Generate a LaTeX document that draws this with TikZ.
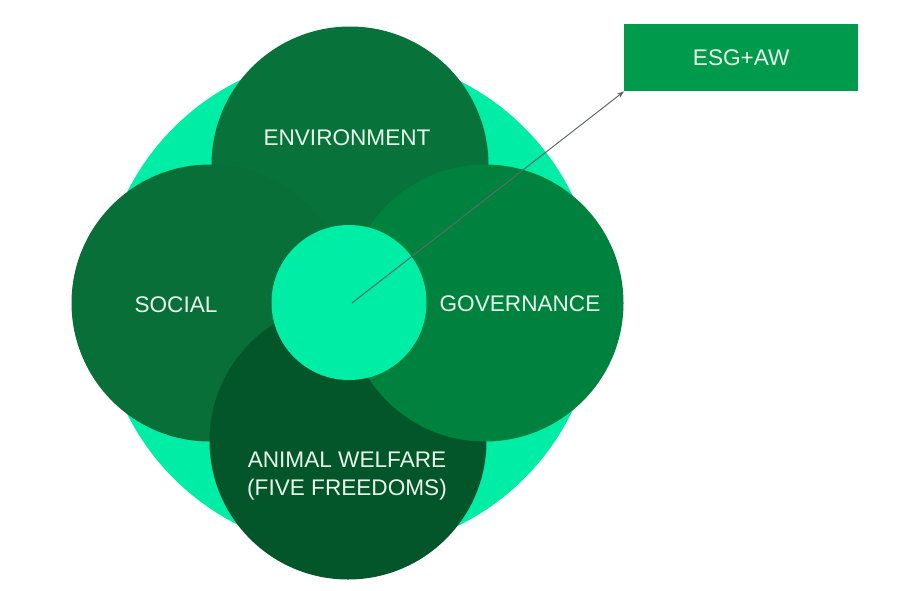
\documentclass[tikz,border=0pt]{standalone}
\usepackage{fontspec}
\setmainfont{Liberation Sans}
\usetikzlibrary{arrows.meta}
\definecolor{lightg}{HTML}{00EDA6}
\definecolor{envc}{HTML}{077239}
\definecolor{socc}{HTML}{096F38}
\definecolor{govc}{HTML}{00823F}
\definecolor{awc}{HTML}{03552A}
\definecolor{boxc}{HTML}{009A4C}
\definecolor{txtc}{HTML}{E8F6EC}
\definecolor{arrc}{HTML}{5E6A66}
\tikzset{
  disc/.style={circle, inner sep=0pt, minimum size=#1, draw=none},
  lbl/.style={text=txtc, font=\fontsize{22.6}{28}\selectfont, align=center, inner sep=0pt},
}
\begin{document}
\begin{tikzpicture}[x=1pt,y=-1pt]
\useasboundingbox (0,0) rectangle (924,590);
\node[disc=496pt, fill=lightg] (big) at (349,303) {};
\node[disc=277pt, fill=envc] (env) at (350,165) {};
\node[disc=277pt, fill=socc] (soc) at (210,303) {};
\node[disc=277pt, fill=awc] (aw) at (348,441) {};
\node[disc=277pt, fill=govc] (gov) at (485,303) {};
\node[disc=155pt, fill=lightg] (cen) at (349,302.5) {};
\node[lbl] (tenv) at (347,138) {ENVIRONMENT};
\node[lbl] (tsoc) at (176,305) {SOCIAL};
\node[lbl] (tgov) at (520,304) {GOVERNANCE};
\node[lbl] (taw) at (347,476) {ANIMAL WELFARE\\(FIVE FREEDOMS)};
\node[fill=boxc, minimum width=234pt, minimum height=67pt, inner sep=0pt, anchor=north west] (box) at (624,24) {};
\node[lbl] (tbox) at (box.center) {ESG+AW};
\draw[arrc, line width=1pt, -{Stealth[length=7pt,width=5pt]}] (352,303) coordinate (start) -- (box.south west);
\end{tikzpicture}
\end{document}
